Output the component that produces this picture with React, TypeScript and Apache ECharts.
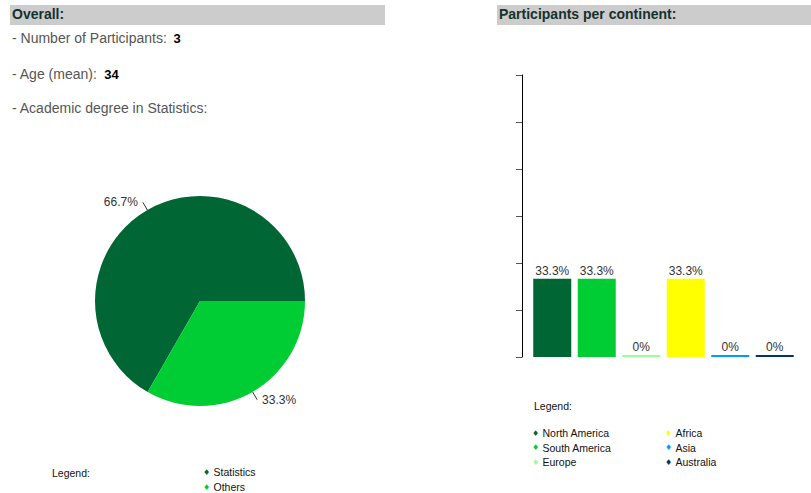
import React, { useEffect, useRef } from "react";
import * as echarts from "echarts";

const continents = ["North America", "South America", "Europe", "Africa", "Asia", "Australia"];
const continentShares = [33.3, 33.3, 0, 33.3, 0, 0];
const continentColors = ["#006633", "#00cc33", "#99ff99", "#ffff00", "#0099ff", "#003366"];
const yTicks = [0, 20, 40, 60, 80, 100, 120];

const degreeNames = ["Statistics", "Others"];
const degreeShares = [66.7, 33.3];
const degreeColors = ["#006633", "#00cc33"];

const participants = "3";
const ageMean = "34";

const FONT = "'Liberation Sans', Arial, sans-serif";

export default function App() {
  const ref = useRef<HTMLDivElement>(null);
  useEffect(() => {
    if (!ref.current) return;
    const chart = echarts.init(ref.current, undefined, { renderer: "svg" });

    const legendItem = (x: number, y: number, color: string, name: string) => ({
      type: "text",
      left: x,
      top: y,
      style: {
        text: `{m|♦} {t|${name}}`,
        rich: {
          m: { fill: color, fontSize: 8, fontFamily: "DejaVu Sans" },
          t: { fill: "#111", fontSize: 10.5, fontFamily: FONT },
        },
      },
    });

    const graphics: any[] = [
      { type: "rect", shape: { x: 10, y: 5, width: 375, height: 20 }, style: { fill: "#cccccc" } },
      { type: "rect", shape: { x: 497, y: 5, width: 314, height: 20 }, style: { fill: "#cccccc" } },
      { type: "text", left: 12, top: 7, style: { text: "Overall:", font: `bold 14px ${FONT}`, fill: "#16302c" } },
      { type: "text", left: 499, top: 7, style: { text: "Participants per continent:", font: `bold 14px ${FONT}`, fill: "#16302c" } },
      {
        type: "text", left: 12, top: 31,
        style: {
          text: `{a|- Number of Participants:}  {b|${participants}}`,
          rich: { a: { fill: "#555", fontSize: 14, fontFamily: FONT }, b: { fill: "#000", fontSize: 13, fontWeight: "bold", fontFamily: FONT } },
        },
      },
      {
        type: "text", left: 12, top: 67,
        style: {
          text: `{a|- Age (mean):}  {b|${ageMean}}`,
          rich: { a: { fill: "#555", fontSize: 14, fontFamily: FONT }, b: { fill: "#000", fontSize: 13, fontWeight: "bold", fontFamily: FONT } },
        },
      },
      {
        type: "text", left: 12, top: 101,
        style: { text: "- Academic degree in Statistics:", fill: "#555", fontSize: 14, fontFamily: FONT },
      },
      { type: "text", left: 52, top: 467, style: { text: "Legend:", fill: "#111", fontSize: 10.5, fontFamily: FONT } },
      { type: "text", left: 534, top: 400, style: { text: "Legend:", fill: "#111", fontSize: 10.5, fontFamily: FONT } },
    ];
    degreeNames.forEach((n, i) => graphics.push(legendItem(203, 466 + i * 15, degreeColors[i], n)));
    continents.forEach((n, i) => {
      const col = Math.floor(i / 3);
      const row = i % 3;
      graphics.push(legendItem(532 + col * 133, 427 + row * 14.5, continentColors[i], n));
    });

    chart.setOption({
      animation: false,
      grid: { left: 530, right: 14, top: 75, bottom: 136 },
      xAxis: {
        type: "category",
        data: continents,
        axisLine: { show: false },
        axisTick: { show: false },
        axisLabel: { show: false },
      },
      yAxis: {
        type: "value",
        min: yTicks[0],
        max: yTicks[yTicks.length - 1],
        interval: yTicks[1] - yTicks[0],
        offset: 8,
        axisLine: { show: true, lineStyle: { color: "#000", width: 1 } },
        axisTick: { show: true, length: 6, lineStyle: { color: "#555" } },
        axisLabel: { show: false },
        splitLine: { show: false },
      },
      series: [
        {
          type: "bar",
          data: continentShares.map((v, i) => ({ value: v, itemStyle: { color: continentColors[i] } })),
          barWidth: 38,
          barMinHeight: 2,
          label: {
            show: true,
            position: "top",
            distance: 2,
            formatter: (p: any) => `${p.value}%`,
            color: "#333",
            fontSize: 12,
            fontFamily: FONT,
          },
        },
        {
          type: "pie",
          center: [200, 301],
          radius: 105,
          startAngle: 0,
          clockwise: false,
          data: degreeNames.map((n, i) => ({ name: n, value: degreeShares[i], itemStyle: { color: degreeColors[i] } })),
          label: {
            show: true,
            position: "outside",
            formatter: "{c}%",
            color: "#333",
            fontSize: 12,
            fontFamily: FONT,
          },
          labelLine: { show: true, length: 9, length2: 0, lineStyle: { color: "#333", width: 1 } },
          emphasis: { disabled: true },
        },
      ],
      graphic: graphics,
    });
    return () => chart.dispose();
  }, []);
  return <div ref={ref} style={{ position: "fixed", left: 0, top: 0, width: 811, height: 493, background: "#fff" }} />;
}
